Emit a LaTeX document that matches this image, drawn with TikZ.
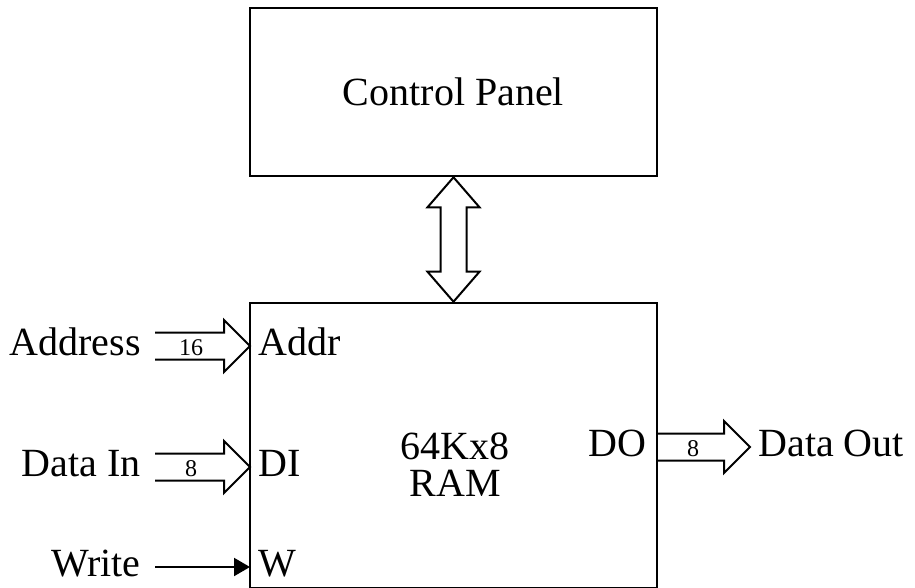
\documentclass[tikz,border=0pt]{standalone}
\usepackage{fontspec}
\setmainfont{Liberation Serif}
\usetikzlibrary{calc, positioning, arrows.meta}

% fat bus arrow: tail, tip, bus width
\newcommand{\busarrow}[3]{%
  \draw[bus] ($(#1)+(0,-13.5)$) -- ($(#2)+(-26,-13.5)$) -- ($(#2)+(-26,-26)$)
    -- (#2) -- ($(#2)+(-26,26)$) -- ($(#2)+(-26,13.5)$) -- ($(#1)+(0,13.5)$);
  \node[buswd, anchor=base] at ($(#1)+(36,9.5)$) {#3};
}

\begin{document}
\begin{tikzpicture}[x=0.5pt, y=-0.5pt,
  box/.style={%
    draw, line width=1.3pt, rectangle,
    minimum width=203.5pt, inner sep=0pt,
    font=\fontsize{20}{24}\selectfont,
    text height=14pt, text depth=0pt},
  lbl/.style={%
    font=\fontsize{20}{24}\selectfont,
    text height=14pt, text depth=4.5pt, inner xsep=7pt, inner ysep=0pt},
  pin/.style={lbl, inner xsep=4pt},
  chip/.style={font=\fontsize{20}{18.5}\selectfont, align=center, inner sep=0pt},
  buswd/.style={font=\fontsize{12}{14}\selectfont, inner sep=0pt},
  bus/.style={line width=1pt, line join=miter},
  sig/.style={line width=1pt, -{Triangle[length=8pt, width=9pt]}}
]
\useasboundingbox (0,0) rectangle (915,588);

\node[box, minimum height=84pt]    (cp)  at (453.5,92)    {Control Panel};
\node[box, minimum height=142.5pt] (ram) at (453.5,445.5) {};
\node[chip] (ramtxt) at (455,465) {64Kx8\\RAM};

% pins inside the RAM
\node[pin, anchor=west] (addr) at (250,346) {Addr};
\node[pin, anchor=west] (di)   at (250,467) {DI};
\node[pin, anchor=west] (w)    at (250,567) {W};
\node[pin, anchor=east, inner xsep=5pt] (do) at (657,447) {DO};

% outside signals
\node[lbl, anchor=east] (address) at (155,346) {Address};
\node[lbl, anchor=east] (datain)  at (155,467) {Data In};
\node[lbl, anchor=east] (write)   at (155,567) {Write};
\node[pin, anchor=west] (dataout) at (750,447) {Data Out};

\busarrow{address.east}{addr.west}{16}
\busarrow{datain.east}{di.west}{8}
\busarrow{do.east}{dataout.west}{8}
\draw[sig] (write.east) -- (w.west);

% control panel <-> RAM
\draw[bus] (cp.south) -- ++(26,30) -- ++(-13,0) -- ($(ram.north)+(13,-30)$)
  -- ++(13,0) -- (ram.north) -- ++(-26,-30) -- ++(13,0)
  -- ($(cp.south)+(-13,30)$) -- ++(-13,0) -- cycle;
\end{tikzpicture}
\end{document}
